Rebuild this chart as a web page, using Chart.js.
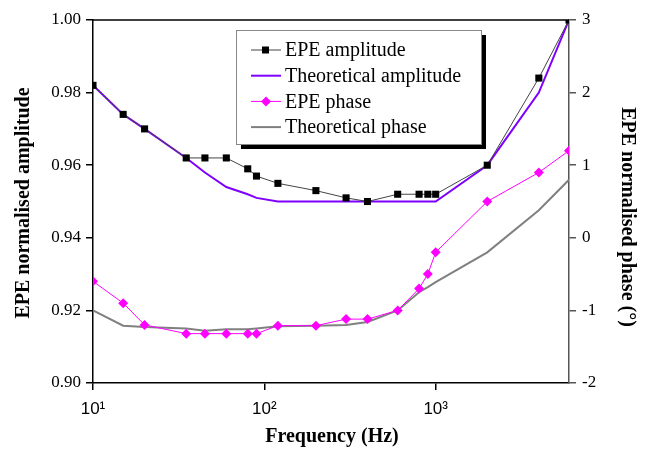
<!DOCTYPE html>
<html>
<head>
<meta charset="utf-8">
<script src="https://cdn.jsdelivr.net/npm/chart.js@4.4.1/dist/chart.umd.min.js"></script>
<style>
  body { margin: 0; background: #fff; }
  #wrap { width: 646px; height: 450px; }
</style>
</head>
<body>
<div id="wrap"><canvas id="chart" width="646" height="450"></canvas></div>
<script>
// frequencies (Hz)
const freqs = [10, 15, 20, 35, 45, 60, 80, 90, 120, 200, 300, 400, 600, 800, 900, 1000, 2000, 4000, 6000];
const epeAmplitude = [0.982, 0.974, 0.970, 0.962, 0.962, 0.962, 0.959, 0.957, 0.955, 0.953, 0.951, 0.950, 0.952, 0.952, 0.952, 0.952, 0.960, 0.984, 1.000];
const theoAmplitude = [0.982, 0.974, 0.970, 0.962, 0.958, 0.954, 0.952, 0.951, 0.950, 0.950, 0.950, 0.950, 0.950, 0.950, 0.950, 0.950, 0.960, 0.980, 1.000];
const epePhase = [-0.6, -0.9, -1.2, -1.32, -1.32, -1.32, -1.32, -1.32, -1.21, -1.21, -1.12, -1.12, -1.0, -0.7, -0.5, -0.2, 0.5, 0.9, 1.2];
const theoPhase = [-1.0, -1.21, -1.23, -1.25, -1.28, -1.26, -1.26, -1.25, -1.22, -1.21, -1.2, -1.16, -1.0, -0.75, -0.68, -0.61, -0.2, 0.38, 0.8];
const xTicks = [10, 100, 1000];
const xTickLabels = ['10\u00B9', '10\u00B2', '10\u00B3'];

const serif = "'Liberation Serif', 'Times New Roman', serif";
const pts = arr => freqs.map((f, i) => ({ x: f, y: arr[i] }));

// legend box, frame line and axis titles
const decor = {
  id: 'decor',
  afterDraw(chart) {
    const c = chart.ctx;
    const a = chart.chartArea;
    c.save();
    // top frame
    c.strokeStyle = '#000';
    c.lineWidth = 1.5;
    c.beginPath();
    c.moveTo(a.left, a.top);
    c.lineTo(a.right, a.top);
    c.stroke();

    // legend
    c.fillStyle = '#000';
    c.fillRect(241, 35, 245, 114);
    c.fillStyle = '#fff';
    c.fillRect(236, 30, 245, 114);
    c.strokeStyle = '#888';
    c.lineWidth = 1;
    c.strokeRect(236.5, 30.5, 245, 114);

    const rows = [
      { text: 'EPE amplitude', color: '#444', width: 1, marker: 'rect', mColor: '#000' },
      { text: 'Theoretical amplitude', color: '#7f00ff', width: 2 },
      { text: 'EPE phase', color: '#ff00ff', width: 1, marker: 'diamond', mColor: '#ff00ff' },
      { text: 'Theoretical phase', color: '#808080', width: 2 }
    ];
    c.font = '20px ' + serif;
    c.textBaseline = 'middle';
    rows.forEach((r, i) => {
      const y = 50 + i * 25.7;
      c.strokeStyle = r.color;
      c.lineWidth = r.width;
      c.beginPath();
      c.moveTo(251, y);
      c.lineTo(281, y);
      c.stroke();
      if (r.marker === 'rect') {
        c.fillStyle = r.mColor;
        c.fillRect(262, y - 3.5, 7, 7);
      } else if (r.marker === 'diamond') {
        c.fillStyle = r.mColor;
        c.beginPath();
        c.moveTo(266, y - 5);
        c.lineTo(271, y);
        c.lineTo(266, y + 5);
        c.lineTo(261, y);
        c.closePath();
        c.fill();
      }
      c.fillStyle = '#000';
      c.textAlign = 'left';
      c.fillText(r.text, 285, y + 1);
    });

    // axis titles
    c.font = 'bold 20px ' + serif;
    c.fillStyle = '#000';
    c.textAlign = 'center';
    c.fillText('Frequency (Hz)', 332, 437);

    c.save();
    c.translate(24, 203);
    c.rotate(-Math.PI / 2);
    c.fillText('EPE normalised amplitude', 0, 0);
    c.restore();

    c.save();
    c.translate(627, 217);
    c.rotate(Math.PI / 2);
    c.fillText('EPE normalised phase (\u00B0)', 0, 0);
    c.restore();

    c.restore();
  }
};

new Chart(document.getElementById('chart'), {
  type: 'line',
  data: {
    datasets: [
      {
        label: 'EPE amplitude',
        data: pts(epeAmplitude),
        yAxisID: 'y',
        borderColor: '#444',
        borderWidth: 1,
        pointStyle: 'rect',
        pointRadius: 5,
        pointBackgroundColor: '#000',
        pointBorderColor: '#000',
        pointBorderWidth: 0,
        order: 1
      },
      {
        label: 'Theoretical amplitude',
        data: pts(theoAmplitude),
        yAxisID: 'y',
        borderColor: '#7f00ff',
        borderWidth: 2,
        pointRadius: 0,
        order: 2
      },
      {
        label: 'EPE phase',
        data: pts(epePhase),
        yAxisID: 'y2',
        borderColor: '#ff00ff',
        borderWidth: 1,
        pointStyle: 'rectRot',
        pointRadius: 5,
        pointBackgroundColor: '#ff00ff',
        pointBorderColor: '#ff00ff',
        pointBorderWidth: 0,
        order: 3
      },
      {
        label: 'Theoretical phase',
        data: pts(theoPhase),
        yAxisID: 'y2',
        borderColor: '#808080',
        borderWidth: 2,
        pointRadius: 0,
        order: 4
      }
    ]
  },
  options: {
    responsive: false,
    animation: false,
    layout: { padding: { top: 20, bottom: 0, left: 0, right: 0 } },
    plugins: {
      legend: { display: false },
      tooltip: { enabled: false }
    },
    scales: {
      x: {
        type: 'logarithmic',
        min: 10,
        max: 6000,
        afterBuildTicks: s => { s.ticks = xTicks.map(v => ({ value: v })); },
        afterFit: s => { s.height = 67; },
        ticks: {
          callback: (v) => xTickLabels[xTicks.indexOf(v)],
          font: { family: "'Liberation Sans', Arial, sans-serif", size: 17 },
          color: '#000',
          maxRotation: 0,
          padding: 9
        },
        grid: { drawOnChartArea: false, tickLength: 7, color: '#000', lineWidth: 1.5 },
        border: { color: '#000', width: 1.5 }
      },
      y: {
        position: 'left',
        min: 0.9,
        max: 1.0,
        afterFit: s => { s.width = 93; },
        ticks: {
          stepSize: 0.02,
          callback: v => v.toFixed(2),
          font: { family: serif, size: 17 },
          color: '#000',
          padding: 5
        },
        grid: { drawOnChartArea: false, tickLength: 7, color: '#000', lineWidth: 1.5 },
        border: { color: '#000', width: 1.5 }
      },
      y2: {
        position: 'right',
        min: -2,
        max: 3,
        afterFit: s => { s.width = 77; },
        ticks: {
          stepSize: 1,
          font: { family: serif, size: 17 },
          color: '#000',
          padding: 6
        },
        grid: { drawOnChartArea: false, tickLength: 7, color: '#555', lineWidth: 1.5 },
        border: { color: '#555', width: 1.5 }
      }
    }
  },
  plugins: [decor]
});
</script>
</body>
</html>
